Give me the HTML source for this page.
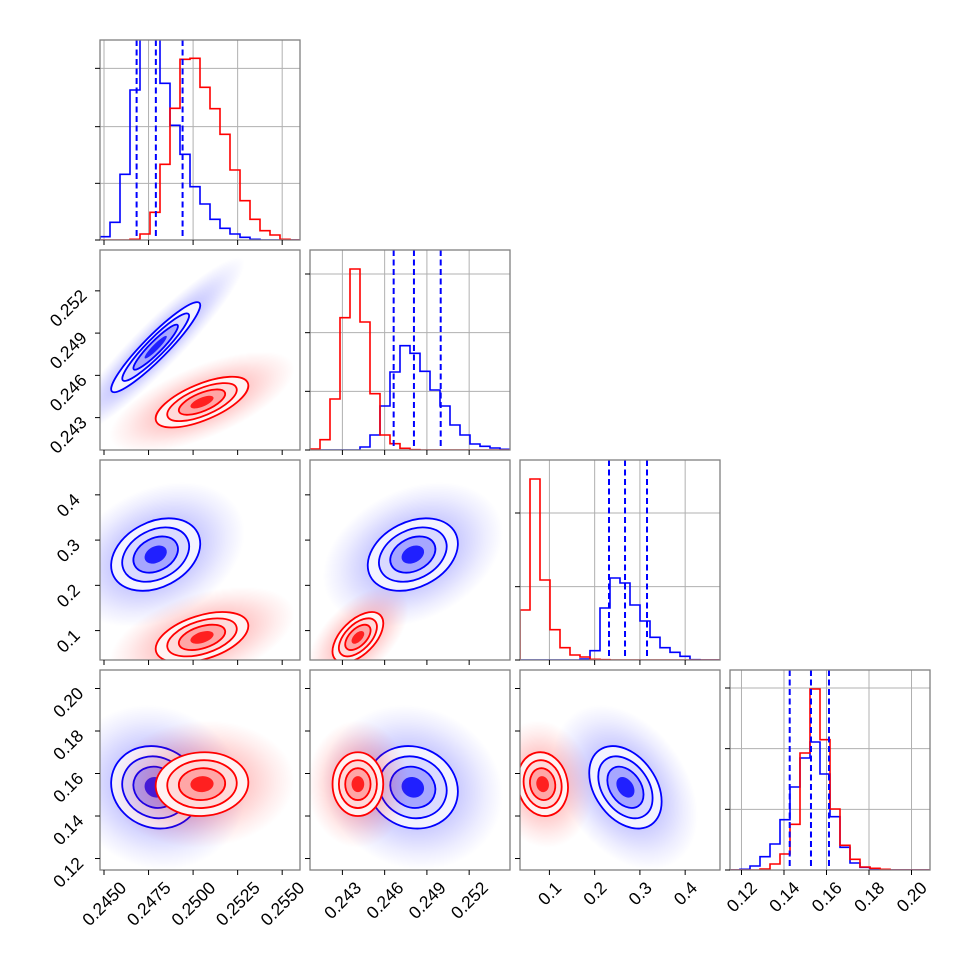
<!DOCTYPE html>
<html><head><meta charset="utf-8"><style>
html,body{margin:0;padding:0;background:#fff;}
svg{display:block;font-family:"Liberation Sans",sans-serif;}
</style></head>
<body>
<svg id="fig" width="970" height="970" viewBox="0 0 970 970">
<rect x="0" y="0" width="970" height="970" fill="#fff"/>
<defs id="defs"></defs>
</svg>
<script>
// ---------- data ----------
const ranges0 = [0.244775, 0.256];
const ranges1 = [0.2407, 0.2549];
const ranges2 = [0.035, 0.477];
const ranges3 = [0.1146, 0.2087];
const ticks0 = [0.245, 0.2475, 0.25, 0.2525, 0.255];
const ticks1 = [0.243, 0.246, 0.249, 0.252];
const ticks2 = [0.1, 0.2, 0.3, 0.4];
const ticks3 = [0.12, 0.14, 0.16, 0.18, 0.20];
const tickLabels0 = ["0.2450", "0.2475", "0.2500", "0.2525", "0.2550"];
const tickLabels1 = ["0.243", "0.246", "0.249", "0.252"];
const tickLabels2 = ["0.1", "0.2", "0.3", "0.4"];
const tickLabels3 = ["0.12", "0.14", "0.16", "0.18", "0.20"];

const blueMean = [0.2479, 0.2480, 0.268, 0.1535];
const blueSd = [0.00125, 0.0016, 0.040, 0.0097];
const redMean = [0.2505, 0.2441, 0.085, 0.155];
const redSd = [0.0013, 0.0009, 0.028, 0.0075];
const blueCorr01 = 0.93, blueCorr02 = 0.3, blueCorr12 = 0.3, blueCorr03 = -0.1, blueCorr13 = -0.1, blueCorr23 = -0.35;
const redCorr01 = 0.65, redCorr02 = 0.45, redCorr12 = 0.55, redCorr03 = 0.05, redCorr13 = 0.0, redCorr23 = -0.1;

const blueHist0 = [10,53,197,450,700,690,470,344,257,160,108,62,35,18,8,2,0,0,0,0];
const redHist0  = [0,0,0,2,18,83,227,395,542,545,458,394,317,210,118,62,28,15,2,0];
const blueHist1 = [0,0,0,0,0,9,45,132,234,313,290,236,180,132,75,45,18,11,6,2];
const redHist1  = [3,31,153,397,543,384,169,45,19,5,1,0,0,0,0,0,0,0,0,0];
const blueHist2 = [0,0,0,0,0,0,3,28,156,246,231,165,117,68,37,23,11,1,0,0];
const redHist2  = [150,543,240,91,37,15,9,2,1,0,0,0,0,0,0,0,0,0,0,0];
const blueHist3 = [0,2,12,40,78,151,249,336,384,288,160,68,21,8,3,1,0,0,0,0];
const redHist3  = [0,0,0,3,18,48,137,351,543,391,183,74,32,9,5,2,0,0,0,0];
const histTicks0 = [0,170,340,515];
const histTicks1 = [0,176,352,528];
const histTicks2 = [0,220,441];
const histTicks3 = [0,182,364,546];
const quant0 = [0.24683, 0.24791, 0.24941];
const quant1 = [0.24664, 0.24808, 0.24998];
const quant2 = [0.2317, 0.2671, 0.3157];
const quant3 = [0.14269, 0.15270, 0.16117];
const histMax = 600;

// ---------- helpers ----------
const NS = "http://www.w3.org/2000/svg";
const svg = document.getElementById("fig");
const defs = document.getElementById("defs");
const R = [ranges0, ranges1, ranges2, ranges3];
const T = [ticks0, ticks1, ticks2, ticks3];
const TL = [tickLabels0, tickLabels1, tickLabels2, tickLabels3];
const BH = [blueHist0, blueHist1, blueHist2, blueHist3];
const RH = [redHist0, redHist1, redHist2, redHist3];
const HT = [histTicks0, histTicks1, histTicks2, histTicks3];
const Q = [quant0, quant1, quant2, quant3];
const S = 200;
function x0(c){return 100 + 210*c;}
function y0(r){return 40 + 210*r;}
function px(c, v){return x0(c) + (v - R[c][0])/(R[c][1]-R[c][0])*S;}
function py(r, v){return y0(r) + S - (v - R[r][0])/(R[r][1]-R[r][0])*S;}
function hy(r, v){return y0(r) + S - v/histMax*S;}
function mk(tag, attrs, parent){
  const e = document.createElementNS(NS, tag);
  for (const k in attrs) e.setAttribute(k, attrs[k]);
  (parent || svg).appendChild(e);
  return e;
}
function corr(set, i, j){
  const key = "" + Math.min(i,j) + Math.max(i,j);
  const b = {"01":blueCorr01,"02":blueCorr02,"12":blueCorr12,"03":blueCorr03,"13":blueCorr13,"23":blueCorr23};
  const rr = {"01":redCorr01,"02":redCorr02,"12":redCorr12,"03":redCorr03,"13":redCorr13,"23":redCorr23};
  return set === "blue" ? b[key] : rr[key];
}

["blue","red"].forEach(function(col){
  const g = mk("radialGradient", {id:"cloud-"+col}, defs);
  const rgb = col === "blue" ? "0,0,255" : "255,0,0";
  mk("stop", {offset:"0", "stop-color":"rgb("+rgb+")", "stop-opacity":"0.38"}, g);
  mk("stop", {offset:"0.5", "stop-color":"rgb("+rgb+")", "stop-opacity":"0.2"}, g);
  mk("stop", {offset:"0.8", "stop-color":"rgb("+rgb+")", "stop-opacity":"0.07"}, g);
  mk("stop", {offset:"1", "stop-color":"rgb("+rgb+")", "stop-opacity":"0"}, g);
});

function panelClip(c, r){
  const id = "clip-"+c+"-"+r;
  const cp = mk("clipPath", {id:id}, defs);
  mk("rect", {x:x0(c), y:y0(r), width:S, height:S}, cp);
  return id;
}

function frame(c, r){
  const f = mk("rect", {x:x0(c), y:y0(r), width:S, height:S, fill:"none", stroke:"#808080", "stroke-width":"1.3"});
  
  
}

function bottomTicks(c, r){
  T[c].forEach(function(v){
    const x = px(c, v);
    const t = mk("line", {x1:x, x2:x, y1:y0(r)+S, y2:y0(r)+S+5, stroke:"#000", "stroke-width":"1"});
    
    
  });
}
function leftTicks(r, c, vals, fn){
  vals.forEach(function(v){
    const y = fn(v);
    const t = mk("line", {x1:x0(c)-5, x2:x0(c), y1:y, y2:y, stroke:"#000", "stroke-width":"1"});
    
    
  });
}

function ellipseParams(set, i, j){
  const mean = set === "blue" ? blueMean : redMean;
  const sd = set === "blue" ? blueSd : redSd;
  const sx = sd[i]/(R[i][1]-R[i][0])*S;
  const sy = sd[j]/(R[j][1]-R[j][0])*S;
  const rho = corr(set, i, j);
  const a = sx*sx, b = sy*sy, cxy = -rho*sx*sy;
  const th = 0.5*Math.atan2(2*cxy, a-b);
  const m = (a+b)/2, d = Math.sqrt(((a-b)/2)*((a-b)/2) + cxy*cxy);
  return {cx:px(i, mean[i]), cy:py(j, mean[j]), r1:Math.sqrt(m+d), r2:Math.sqrt(Math.max(m-d, 0.01)), ang:th*180/Math.PI};
}

function drawSet(set, i, j, g){
  const e = ellipseParams(set, i, j);
  const tr = "rotate("+e.ang+" "+e.cx+" "+e.cy+")";
  const cl = mk("ellipse", {cx:e.cx, cy:e.cy, rx:e.r1*4, ry:e.r2*4, transform:tr, fill:"url(#cloud-"+set+")"}, g);
  
  
  const fills = set === "blue" ? ["#f3f3ff","#dadaff","#a6a6ff","#2020ff"] : ["#fff3f3","#ffdada","#ffa6a6","#ff2020"];
  const lv = [2, 1.5, 1, 0.5];
  lv.forEach(function(k, n){
    const f = mk("ellipse", {cx:e.cx, cy:e.cy, rx:e.r1*k, ry:e.r2*k, transform:tr, fill:fills[n]}, g);
    
    
  });
  [2, 1.5, 1].forEach(function(k){
    const l = mk("ellipse", {cx:e.cx, cy:e.cy, rx:e.r1*k, ry:e.r2*k, transform:tr, fill:"none", stroke:set==="blue"?"#0000ff":"#ff0000", "stroke-width":"1.8"}, g);
    
    
  });
}

function stepPath(c, counts){
  const n = counts.length;
  const bw = S/n;
  let d = "M"+x0(c)+","+(y0(c)+S);
  for (let k=0;k<n;k++){
    const xl = x0(c)+k*bw, xr = xl+bw, y = hy(c, counts[k]);
    d += " L"+xl+","+y+" L"+xr+","+y;
  }
  d += " L"+(x0(c)+S)+","+(y0(c)+S);
  return d;
}

// ---------- histograms ----------
for (let c=0;c<4;c++){
  const g = mk("g", {"clip-path":"url(#"+panelClip(c,c)+")"});
  
  
  T[c].forEach(function(v){
    const gl = mk("line", {x1:px(c,v), x2:px(c,v), y1:y0(c), y2:y0(c)+S, stroke:"#b0b0b0", "stroke-width":"1"}, g);
    
    
  });
  HT[c].forEach(function(v){
    const gl = mk("line", {x1:x0(c), x2:x0(c)+S, y1:hy(c,v), y2:hy(c,v), stroke:"#b0b0b0", "stroke-width":"1"}, g);
    
    
  });
  const bp = mk("path", {d:stepPath(c, BH[c]), fill:"none", stroke:"#0000ff", "stroke-width":"1.6"}, g);
  
  
  const rp = mk("path", {d:stepPath(c, RH[c]), fill:"none", stroke:"#ff0000", "stroke-width":"1.6"}, g);
  
  
  Q[c].forEach(function(v){
    const ql = mk("line", {x1:px(c,v), x2:px(c,v), y1:y0(c), y2:y0(c)+S, stroke:"#0000ff", "stroke-width":"2", "stroke-dasharray":"6,3.5"}, g);
    
    
  });
  frame(c, c);
  bottomTicks(c, c);
  leftTicks(c, c, HT[c], function(v){return hy(c, v);});
}

// ---------- 2D panels ----------
for (let r=1;r<4;r++){
  for (let c=0;c<r;c++){
    const g = mk("g", {"clip-path":"url(#"+panelClip(c,r)+")"});
    
    
    drawSet("blue", c, r, g);
    drawSet("red", c, r, g);
    frame(c, r);
    bottomTicks(c, r);
    leftTicks(r, c, T[r], function(v){return py(r, v);});
  }
}

// ---------- tick labels ----------
const FS = 17.5, CAP = 12.6;
function label(txt, name){
  const t = mk("text", {"font-size":FS, fill:"#000", "text-anchor":"end"});
  t.textContent = txt;
  
  
  return t;
}
for (let c=0;c<4;c++){
  T[c].forEach(function(v, k){
    const t = label(TL[c][k], 'x-tick-label');
    const L = t.getComputedTextLength();
    const W = (L+CAP)*0.707;
    const ax = px(c, v) + W/2, ay = 889;
    t.setAttribute("transform", "translate("+ax+","+ay+") rotate(-45)");
  });
}
for (let r=1;r<4;r++){
  T[r].forEach(function(v, k){
    const t = label(TL[r][k], 'y-tick-label');
    const L = t.getComputedTextLength();
    const W = (L+CAP)*0.707;
    const ax = 68 + W/2, ay = py(r, v) + 6;
    t.setAttribute("transform", "translate("+ax+","+ay+") rotate(-45)");
  });
}
</script>
</body></html>
